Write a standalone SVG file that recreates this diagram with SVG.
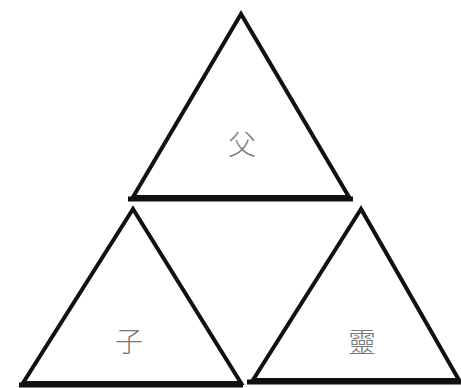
<svg xmlns="http://www.w3.org/2000/svg" width="461" height="388" viewBox="0 0 461 388">
<style>
.tri{fill:none;stroke:#111;stroke-width:4;stroke-linejoin:miter}
.base{stroke:#111;stroke-width:5}
.lbl{font-family:"Noto Sans CJK TC","Noto Sans CJK SC",sans-serif;font-size:28px;font-weight:300;fill:#777;text-anchor:middle;dominant-baseline:central}
</style>
<rect width="461" height="388" fill="#fff"/>
<g id="father">
<path class="tri" d="M241,14 L133,197 L349,197 Z"/>
<line class="base" x1="128" y1="199" x2="353" y2="199"/>
<text class="lbl" x="242" y="143">父</text>
</g>
<g id="son">
<path class="tri" d="M133,209 L23,383 L241,383 Z"/>
<line class="base" x1="19" y1="385" x2="243" y2="385"/>
<text class="lbl" x="129" y="340">子</text>
</g>
<g id="spirit">
<path class="tri" d="M361,209 L253,380 L459,380 Z"/>
<line class="base" x1="247" y1="382" x2="461" y2="382"/>
<text class="lbl" x="362" y="341">靈</text>
</g>
<g id="connectors"></g>
</svg>
